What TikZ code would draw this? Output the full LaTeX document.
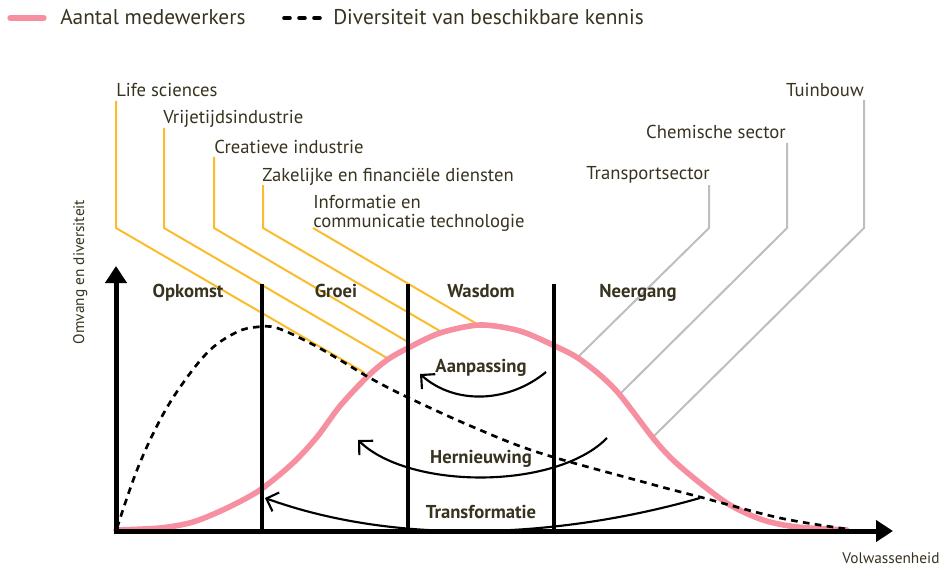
\documentclass[tikz,border=0pt]{standalone}
\usepackage{fontspec}
\setmainfont{PT Sans}
\usetikzlibrary{arrows.meta}
\definecolor{txt}{RGB}{56,51,31}
\definecolor{roze}{RGB}{246,143,160}
\definecolor{geel}{RGB}{250,188,44}
\definecolor{grijs}{RGB}{190,190,190}
\begin{document}
\begin{tikzpicture}[x=0.75pt,y=-0.75pt,
  lbl/.style={text=txt,inner sep=0pt,font=\fontsize{14}{14.25}\selectfont},
  fase/.style={text=txt,inner sep=0pt,font=\fontsize{14}{15}\selectfont\bfseries},
  lijnY/.style={geel,line width=1.5pt},
  lijnG/.style={grijs,line width=1.5pt},
  cyc/.style={line width=1.6pt,-{Straight Barb[length=7.5pt,width=15pt]}},
  as/.style={line width=3.75pt,-{Triangle[length=12.75pt,width=15.75pt]}}]
\useasboundingbox (0,0) rectangle (947,567);
% legenda
\draw[roze,line width=4pt,line cap=round] (10,18) -- (44,18);
\node[lbl,font=\fontsize{16}{18}\selectfont,anchor=base west] (leg1) at (60,25) {Aantal medewerkers};
\foreach \x in {287,302,317} \draw[line width=3.5pt,line cap=round] (\x-2.5,18) -- (\x+2.5,18);
\node[lbl,font=\fontsize{16}{18}\selectfont,anchor=base west] (leg2) at (333,25) {Diversiteit van beschikbare kennis};
% sectoren
\node[lbl,anchor=base west] (life) at (116,97) {Life sciences};
\node[lbl,anchor=base west] (vrij) at (163,124) {Vrijetijdsindustrie};
\node[lbl,anchor=base west] (crea) at (214,153) {Creatieve industrie};
\node[lbl,anchor=base west] (zak) at (262,181) {Zakelijke en financiële diensten};
\node[lbl,anchor=base west,align=left] (ict) at (313,227) {Informatie en\\communicatie technologie};
\node[lbl,anchor=base east] (tuin) at (864,97) {Tuinbouw};
\node[lbl,anchor=base east] (chem) at (786,138) {Chemische sector};
\node[lbl,anchor=base west] (trans) at (586,180) {Transportsector};
% leaders
\coordinate (e1) at (365,373);
\coordinate (e2) at (387,358);
\coordinate (e3) at (408,342);
\coordinate (e4) at (440,331);
\coordinate (e5) at (477,324);
\draw[lijnY] (116,101) -- (116,228) -- (e1);
\draw[lijnY] (164,128) -- (164,228) -- (e2);
\draw[lijnY] (214,157) -- (214,228) -- (e3);
\draw[lijnY] (263,185) -- (263,228) -- (e4);
\draw[lijnY] (313,228) -- (e5);
\coordinate (g1) at (578,357);
\coordinate (g2) at (620,394);
\coordinate (g3) at (653,437);
\draw[lijnG] (709,185) -- (709,228) -- (g1);
\draw[lijnG] (787,143) -- (787,228) -- (g2);
\draw[lijnG] (864,100) -- (864,228) -- (g3);
% curves
\draw[roze,line width=4.2pt,line cap=round] plot[smooth,tension=0.5] coordinates {(116,530) (160,528) (193,522) (227,508) (260,490) (293,463) (317,437) (340,406) (367,377) (387,360) (408,348) (440,333) (480,325) (520,331) (557,347) (578,358) (600,375) (620,395) (653,438) (673,460) (700,483) (730,505) (763,520) (797,527) (847,530)};
\draw[line width=2pt,dash pattern=on 5pt off 4pt] plot[smooth,tension=0.6] coordinates {(117,528) (137,470) (160,420) (183,383) (210,350) (237,332) (257,327) (277,328) (310,343) (340,360) (370,378) (407,397) (473,427) (540,453) (647,483) (700,497) (780,518) (847,529)};
% assen
\coordinate (O) at (116,531);
\coordinate (ytop) at (116,266);
\coordinate (xend) at (893,531);
\draw[as] (116,533.5) -- (ytop);
\draw[as] (114,531) -- (xend);
\foreach \x in {262,408,554} \draw[line width=3pt] (\x,284) -- (\x,531);
\node[lbl,font=\fontsize{11.5}{13}\selectfont,rotate=90,anchor=base] (yl) at (84,272) {Omvang en diversiteit};
\node[lbl,font=\fontsize{11.5}{13}\selectfont,anchor=base] (xl) at (891,563) {Volwassenheid};
% fasen
\node[fase,anchor=base] (opk) at (188,297) {Opkomst};
\node[fase,anchor=base] (groei) at (336,297) {Groei};
\node[fase,anchor=base] (wasd) at (481,297) {Wasdom};
\node[fase,anchor=base] (neer) at (638,297) {Neergang};
% cycli
\node[fase,anchor=base] (aanp) at (481,372) {Aanpassing};
\node[fase,anchor=base] (hern) at (481,463) {Hernieuwing};
\node[fase,anchor=base] (trf) at (481,518) {Transformatie};
\coordinate (a0) at (546,372); \coordinate (a1) at (420,374);
\coordinate (h0) at (607,438); \coordinate (h1) at (358,440);
\coordinate (t0) at (700,498); \coordinate (t1) at (265,498);
\draw[cyc] (a0) .. controls (510,402) and (456,406) .. (a1);
\draw[cyc] (h0) .. controls (556,490) and (410,490) .. (h1);
\draw[cyc] (t0) .. controls (560,538) and (398,546) .. (t1);
\end{tikzpicture}
\end{document}
